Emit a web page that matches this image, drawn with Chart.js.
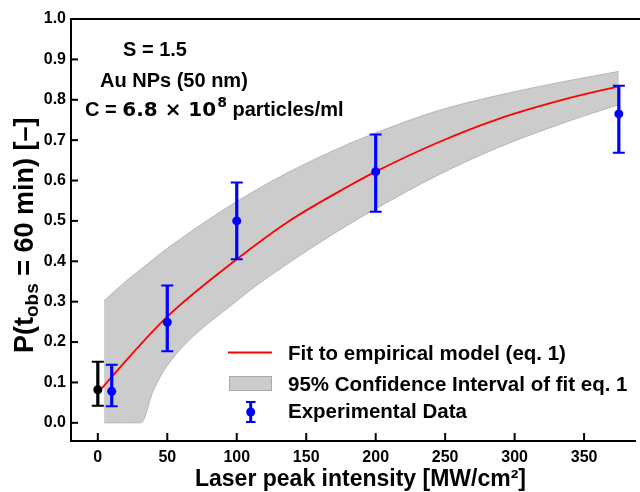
<!DOCTYPE html>
<html><head><meta charset="utf-8">
<script src="https://cdn.jsdelivr.net/npm/chart.js@4.4.0/dist/chart.umd.min.js"></script>
<style>html,body{margin:0;padding:0;background:#fff;}canvas{display:block;}</style>
</head><body>
<canvas id="c" width="640" height="492"></canvas>
<script>
// ---- data ----
const expX    = [10, 50, 100, 200, 375];
const expY    = [0.078, 0.249, 0.500, 0.622, 0.765];
const expLow  = [0.041, 0.177, 0.405, 0.523, 0.669];
const expHigh = [0.144, 0.340, 0.595, 0.714, 0.835];
const ctrlX    = [0];
const ctrlY    = [0.082];
const ctrlLow  = [0.042];
const ctrlHigh = [0.151];
const fitX = [3, 10, 50, 100, 137, 180, 200, 244, 287, 337, 375];
const fitY = [0.086, 0.114, 0.263, 0.405, 0.498, 0.585, 0.622, 0.693, 0.751, 0.802, 0.833];
const bandX     = [4.5, 20, 31, 40, 50, 100, 137, 180, 200, 244, 287, 337, 375];
const bandUpper = [0.302, 0.350, 0.380, 0.405, 0.432, 0.548, 0.620, 0.690, 0.718, 0.772, 0.810, 0.846, 0.870];
const bandLower = [0, 0, 0, 0.080, 0.142, 0.302, 0.395, 0.490, 0.530, 0.612, 0.680, 0.745, 0.788];
const xTicks = [0, 50, 100, 150, 200, 250, 300, 350];
const yTicks = [0, 0.1, 0.2, 0.3, 0.4, 0.5, 0.6, 0.7, 0.8, 0.9, 1.0];
const yTickLabels = ['0.0','0.1','0.2','0.3','0.4','0.5','0.6','0.7','0.8','0.9','1.0'];
const legendLabels = ['Fit to empirical model (eq. 1)', '95% Confidence Interval of fit eq. 1', 'Experimental Data'];
const xTitle = 'Laser peak intensity [MW/cm\u00b2]';
const yTitleParts = ['P(t', 'obs', ' = 60 min) [\u2013]'];
const noteLine1 = 'S = 1.5';
const noteLine2 = 'Au NPs (50 nm)';
const noteLine3 = ['C = ', '6.8 \u00d7 10', '8', ' particles/ml'];

const FONT = "'Liberation Sans', Arial, sans-serif";
const pts = (xs, ys) => xs.map((x, i) => ({x: x, y: ys[i]}));

const decor = {
  id: 'decor',
  afterDatasetsDraw(chart) {
    const ctx = chart.ctx, xs = chart.scales.x, ys = chart.scales.y;
    const bars = (X, L, H, color) => {
      ctx.save();
      ctx.strokeStyle = color;
      X.forEach((xv, i) => {
        const px = xs.getPixelForValue(xv);
        const pl = ys.getPixelForValue(L[i]), ph = ys.getPixelForValue(H[i]);
        ctx.lineWidth = 3.2;
        ctx.beginPath(); ctx.moveTo(px, pl); ctx.lineTo(px, ph); ctx.stroke();
        ctx.lineWidth = 2;
        ctx.beginPath();
        ctx.moveTo(px - 6, pl); ctx.lineTo(px + 6, pl);
        ctx.moveTo(px - 6, ph); ctx.lineTo(px + 6, ph);
        ctx.stroke();
      });
      ctx.restore();
    };
    bars(ctrlX, ctrlLow, ctrlHigh, '#000000');
    bars(expX, expLow, expHigh, '#0000ff');
  },
  afterDraw(chart) {
    const ctx = chart.ctx, a = chart.chartArea, xs = chart.scales.x, ys = chart.scales.y;
    ctx.save();
    // top spine
    ctx.strokeStyle = '#000'; ctx.lineWidth = 2;
    ctx.beginPath(); ctx.moveTo(a.left - 1, a.top); ctx.lineTo(640, a.top); ctx.stroke();
    // inward ticks
    ctx.lineWidth = 2;
    xTicks.forEach(v => { const p = xs.getPixelForValue(v); ctx.beginPath(); ctx.moveTo(p, a.bottom); ctx.lineTo(p, a.bottom - 8); ctx.stroke(); });
    yTicks.forEach(v => { const p = ys.getPixelForValue(v); ctx.beginPath(); ctx.moveTo(a.left, p); ctx.lineTo(a.left + 7, p); ctx.stroke(); });

    ctx.fillStyle = '#000';
    // x title
    ctx.font = 'bold 23px ' + FONT; ctx.textAlign = 'center'; ctx.textBaseline = 'alphabetic';
    ctx.fillText(xTitle, 360.5, 486);
    // y title (rotated, with subscript)
    ctx.save();
    ctx.translate(33, 353); ctx.rotate(-Math.PI / 2);
    ctx.textAlign = 'left';
    let u = 0;
    ctx.font = 'bold 27px ' + FONT; ctx.fillText(yTitleParts[0], u, 0); u += ctx.measureText(yTitleParts[0]).width;
    ctx.font = 'bold 19px ' + FONT; ctx.fillText(yTitleParts[1], u, 5); u += ctx.measureText(yTitleParts[1]).width;
    ctx.font = 'bold 27px ' + FONT; ctx.fillText(yTitleParts[2], u, 0);
    ctx.restore();

    // annotation
    ctx.textAlign = 'left';
    ctx.font = 'bold 20px ' + FONT;
    ctx.fillText(noteLine1, 123, 56);
    ctx.fillText(noteLine2, 100, 86.5);
    let cx = 85;
    ctx.fillText(noteLine3[0], cx, 116); cx += ctx.measureText(noteLine3[0]).width;
    ctx.font = "bold 20px 'DejaVu Sans', sans-serif";
    ctx.fillText(noteLine3[1], cx, 116); cx += ctx.measureText(noteLine3[1]).width + 1;
    ctx.font = "bold 14px 'DejaVu Sans', sans-serif";
    ctx.fillText(noteLine3[2], cx, 107); cx += ctx.measureText(noteLine3[2]).width;
    ctx.font = 'bold 20px ' + FONT;
    ctx.fillText(noteLine3[3], cx, 116);

    // legend
    ctx.strokeStyle = '#ff0000'; ctx.lineWidth = 2;
    ctx.beginPath(); ctx.moveTo(228, 352.5); ctx.lineTo(272, 352.5); ctx.stroke();
    ctx.fillStyle = '#cccccc'; ctx.fillRect(229, 376, 43, 15);
    ctx.strokeStyle = '#aaaaaa'; ctx.lineWidth = 1; ctx.strokeRect(229.5, 376.5, 42, 14);
    ctx.strokeStyle = '#0000ff'; ctx.lineWidth = 3;
    ctx.beginPath(); ctx.moveTo(250.7, 402); ctx.lineTo(250.7, 422); ctx.stroke();
    ctx.lineWidth = 2;
    ctx.beginPath(); ctx.moveTo(246, 402); ctx.lineTo(255.5, 402); ctx.moveTo(246, 422); ctx.lineTo(255.5, 422); ctx.stroke();
    ctx.fillStyle = '#0000ff'; ctx.beginPath(); ctx.arc(250.7, 412, 4.5, 0, Math.PI * 2); ctx.fill();
    ctx.fillStyle = '#000'; ctx.font = 'bold 20.5px ' + FONT;
    ctx.fillText(legendLabels[0], 288, 359.5);
    ctx.fillText(legendLabels[1], 288, 390.5);
    ctx.fillText(legendLabels[2], 288, 418);
    ctx.restore();
  }
};

Chart.defaults.font.family = FONT;
new Chart(document.getElementById('c'), {
  type: 'line',
  data: {
    datasets: [
      { label: 'upper', data: pts(bandX, bandUpper), borderColor: '#b4b4b4', borderWidth: 1, backgroundColor: '#cccccc',
        fill: '+1', pointRadius: 0, cubicInterpolationMode: 'monotone', order: 5 },
      { label: 'lower', data: pts(bandX, bandLower), borderColor: '#b4b4b4', borderWidth: 1, backgroundColor: '#cccccc',
        fill: false, pointRadius: 0, cubicInterpolationMode: 'monotone', order: 4 },
      { label: legendLabels[0], data: pts(fitX, fitY), borderColor: '#ff0000', borderWidth: 1.8, fill: false,
        pointRadius: 0, cubicInterpolationMode: 'monotone', order: 3 },
      { label: 'control', data: pts(ctrlX, ctrlY), showLine: false, pointRadius: 4.5, pointBorderWidth: 0,
        pointBackgroundColor: '#000000', borderColor: '#000000', order: 2 },
      { label: legendLabels[2], data: pts(expX, expY), showLine: false, pointRadius: 4.5, pointBorderWidth: 0,
        pointBackgroundColor: '#0000ff', borderColor: '#0000ff', order: 1 }
    ]
  },
  options: {
    responsive: false, animation: false, devicePixelRatio: 1,
    layout: { padding: { top: 19, left: 0, right: 0, bottom: 0 } },
    plugins: { legend: { display: false }, tooltip: { enabled: false } },
    scales: {
      x: {
        type: 'linear', min: -19.3, max: 387,
        grid: { display: false, drawTicks: false },
        border: { display: true, color: '#000', width: 2 },
        afterBuildTicks: s => { s.ticks = xTicks.map(v => ({ value: v })); },
        afterFit: s => { s.height = 51; },
        ticks: { color: '#000', font: { size: 16, weight: 'bold' }, padding: 7, maxRotation: 0,
                 callback: (v) => String(v) }
      },
      y: {
        type: 'linear', min: -0.045, max: 1.0,
        grid: { display: false, drawTicks: false },
        border: { display: true, color: '#000', width: 2 },
        afterBuildTicks: s => { s.ticks = yTicks.map(v => ({ value: v })); },
        afterFit: s => { s.width = 71; },
        ticks: { color: '#000', font: { size: 16, weight: 'bold' }, padding: 5,
                 callback: (v, i) => yTickLabels[i] }
      }
    }
  },
  plugins: [decor]
});
</script>
</body></html>
